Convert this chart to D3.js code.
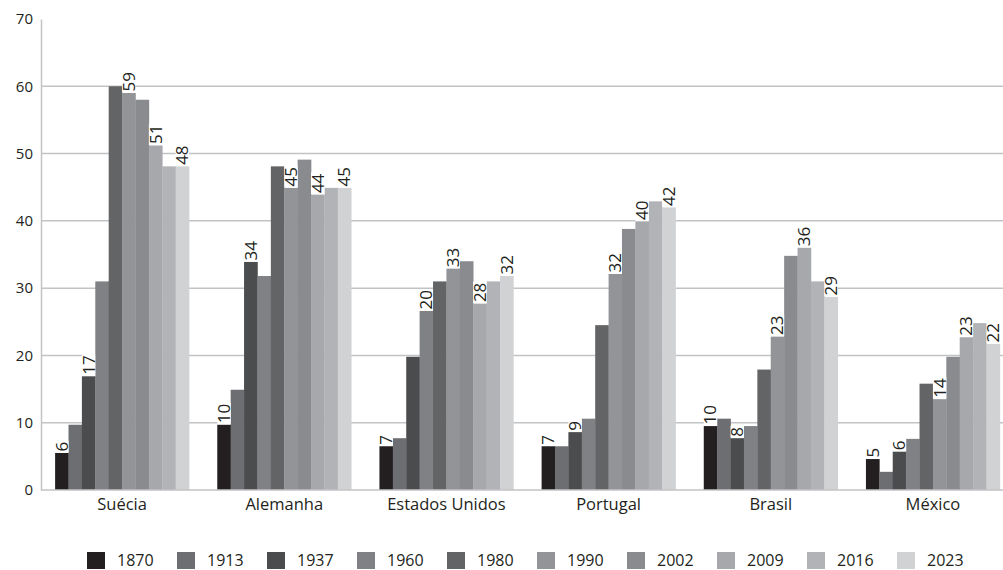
<!DOCTYPE html>
<html>
<head>
<meta charset="utf-8">
<script src="https://cdn.jsdelivr.net/npm/d3@7"></script>
<style>
  html, body { margin: 0; padding: 0; background: #fff; }
  svg { display: block; font-family: "Open Sans", sans-serif; }
</style>
</head>
<body>
<svg id="chart" width="1003" height="570"></svg>
<script>
const categories = ["Suécia", "Alemanha", "Estados Unidos", "Portugal", "Brasil", "México"];
const years = ["1870", "1913", "1937", "1960", "1980", "1990", "2002", "2009", "2016", "2023"];

const v1870 = [5.5, 9.7, 6.5, 6.5, 9.5, 4.6];
const v1913 = [9.7, 14.9, 7.7, 6.5, 10.6, 2.7];
const v1937 = [16.9, 33.9, 19.8, 8.6, 7.7, 5.7];
const v1960 = [31.0, 31.8, 26.6, 10.6, 9.5, 7.6];
const v1980 = [60.0, 48.1, 31.0, 24.5, 17.9, 15.8];
const v1990 = [59.0, 44.9, 32.9, 32.1, 22.8, 13.5];
const v2002 = [58.0, 49.1, 34.0, 38.8, 34.8, 19.8];
const v2009 = [51.2, 43.9, 27.7, 39.9, 36.0, 22.7];
const v2016 = [48.1, 44.9, 31.0, 42.9, 31.0, 24.8];
const v2023 = [48.1, 44.9, 31.8, 42.0, 28.7, 21.7];
const seriesValues = [v1870, v1913, v1937, v1960, v1980, v1990, v2002, v2009, v2016, v2023];

// printed labels (per category, per series; null = no label)
const labelsSuecia   = ["6", null, "17", null, null, "59", null, "51", null, "48"];
const labelsAlemanha = ["10", null, "34", null, null, "45", null, "44", null, "45"];
const labelsEUA      = ["7", null, null, "20", null, "33", null, "28", null, "32"];
const labelsPortugal = ["7", null, "9", null, null, "32", null, "40", null, "42"];
const labelsBrasil   = ["10", null, "8", null, null, "23", null, "36", null, "29"];
const labelsMexico   = ["5", null, "6", null, null, "14", null, "23", null, "22"];
const barLabels = [labelsSuecia, labelsAlemanha, labelsEUA, labelsPortugal, labelsBrasil, labelsMexico];

const yTicks = [0, 10, 20, 30, 40, 50, 60, 70];
const colors = ["#231f20", "#6d6e71", "#4b4c4e", "#808184", "#636466", "#939497", "#8a8b8e", "#a7a8ab", "#b2b3b6", "#d1d2d4"];

(function () {
const svg = d3.select("#chart");
const mLeft = 41, mRight = 1014, mTop = 19, mBottom = 490;
const textColor = "#231f20";
const gridColor = "#c2c3c5";

const y = d3.scaleLinear().domain([0, 70]).range([mBottom, mTop]);
const x0 = d3.scaleBand().domain(categories).range([mLeft, mRight]).paddingInner(0.174).paddingOuter(0.087);
const x1 = d3.scaleBand().domain(years).range([0, x0.bandwidth()]).padding(0);

// gridlines
svg.append("g").selectAll("line").data(yTicks.filter(t => t > 0 && t < 70)).join("line")
  .attr("x1", mLeft).attr("x2", 1003)
  .attr("y1", d => y(d)).attr("y2", d => y(d))
  .attr("stroke", gridColor).attr("stroke-width", 1.5);

// y axis
const yAxis = d3.axisLeft(y).tickValues(yTicks).tickSize(0).tickPadding(8);
const gy = svg.append("g").attr("transform", `translate(${mLeft},0)`).call(yAxis);
gy.select(".domain").attr("stroke", gridColor).attr("stroke-width", 1.5);
gy.selectAll("text").attr("font-size", 15).attr("fill", textColor).style("font-family", "'Open Sans', sans-serif");

// bars
const data = [];
categories.forEach((c, ci) => {
  years.forEach((yr, si) => {
    data.push({ c, ci, yr, si, v: seriesValues[si][ci], label: barLabels[ci][si] });
  });
});

svg.append("g").selectAll("rect").data(data).join("rect")
  .attr("x", d => x0(d.c) + x1(d.yr))
  .attr("y", d => y(d.v))
  .attr("width", x1.bandwidth() + 0.3)
  .attr("height", d => y(0) - y(d.v))
  .attr("fill", d => colors[d.si]);

// x axis
const xAxis = d3.axisBottom(x0).tickSize(0).tickPadding(8);
const gx = svg.append("g").attr("transform", `translate(0,${mBottom})`).call(xAxis);
gx.select(".domain").remove();
svg.append("line").attr("x1", mLeft).attr("x2", 1003).attr("y1", mBottom).attr("y2", mBottom)
  .attr("stroke", gridColor).attr("stroke-width", 1.5);
gx.selectAll("text").attr("font-size", 16.5).attr("fill", textColor).style("font-family", "'Open Sans', sans-serif");

// bar labels
const lg = svg.append("g");
data.filter(d => d.label !== null).forEach(d => {
  const cx = x0(d.c) + x1(d.yr) + x1.bandwidth() / 2;
  const yTop = y(d.v);
  const g = lg.append("g").attr("transform", `translate(${cx},${yTop - 1.5}) rotate(-90)`);
  const bg = g.append("rect");
  const t = g.append("text").text(d.label)
    .attr("x", 0).attr("y", 0)
    .attr("dy", "0.35em")
    .attr("font-size", 17).attr("fill", textColor)
    .attr("text-anchor", "start");
  const bb = t.node().getBBox();
  bg.attr("x", -1).attr("y", -x1.bandwidth() / 2).attr("width", bb.width + 2).attr("height", x1.bandwidth()).attr("fill", "#fff");
});

// legend
const legend = svg.append("g").attr("transform", "translate(87,552)");
years.forEach((yr, i) => {
  const g = legend.append("g").attr("transform", `translate(${i * 90},0)`);
  g.append("rect").attr("width", 18).attr("height", 17).attr("fill", colors[i]);
  g.append("text").text(yr).attr("x", 30).attr("y", 8.5).attr("dy", "0.35em")
    .attr("font-size", 16).attr("fill", textColor);
});
})();
</script>
</body>
</html>
